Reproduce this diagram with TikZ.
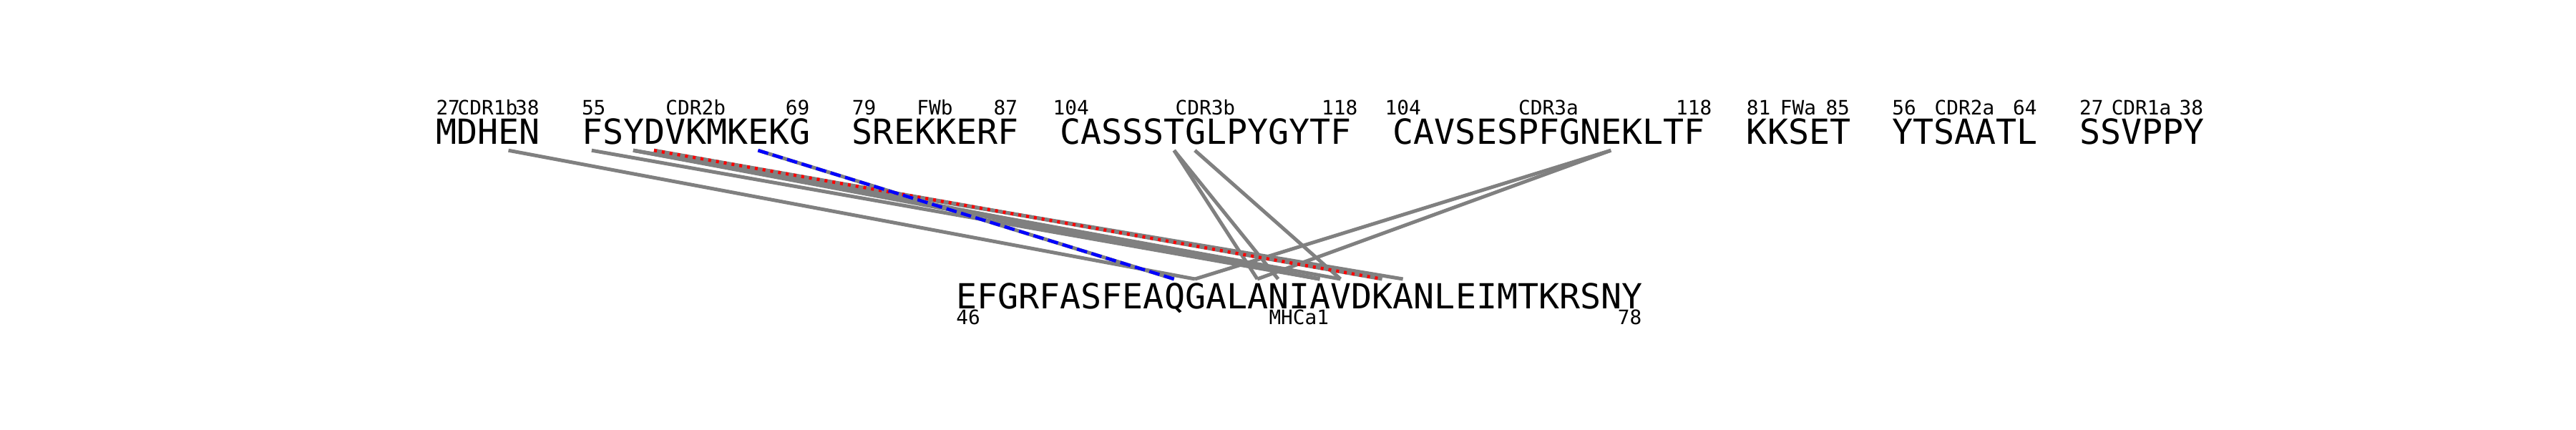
\documentclass[tikz,border=0pt]{standalone}
\usepackage{fontspec}
\usepackage{tikz}
\newfontfamily\seqfont{DejaVu Sans Mono}
\newcommand{\cw}{0.2907}

\tikzset{
  seq/.style={font=\seqfont\fontsize{13.74}{16}\selectfont, inner sep=0pt, anchor=base west},
  lbl/.style={font=\seqfont\fontsize{7.9}{9}\selectfont, inner sep=0pt},
  contact/.style={draw=gray, line width=0.05cm},
  reddot/.style={draw=red, line width=0.045cm, dash pattern=on 0.04cm off 0.07cm},
  bluedash/.style={draw=blue, line width=0.045cm, dash pattern=on 0.148cm off 0.064cm}
}

\begin{document}
\begin{tikzpicture}
	\useasboundingbox (0,0) rectangle (36,-6);

	% TCR segments
	\node[seq] (cdr1b) at (6.088,-2.017) {MDHEN};
	\node[lbl, anchor=base west] (cdr1b-s) at (6.088,-1.60) {27};
	\node[lbl, anchor=base] (cdr1b-n) at (6.815,-1.60) {CDR1b};
	\node[lbl, anchor=base east] (cdr1b-e) at (7.542,-1.60) {38};

	\node[seq] (cdr2b) at (8.123,-2.017) {FSYDVKMKEKG};
	\node[lbl, anchor=base west] (cdr2b-s) at (8.123,-1.60) {55};
	\node[lbl, anchor=base] (cdr2b-n) at (9.722,-1.60) {CDR2b};
	\node[lbl, anchor=base east] (cdr2b-e) at (11.321,-1.60) {69};

	\node[seq] (fwb) at (11.902,-2.017) {SREKKERF};
	\node[lbl, anchor=base west] (fwb-s) at (11.902,-1.60) {79};
	\node[lbl, anchor=base] (fwb-n) at (13.065,-1.60) {FWb};
	\node[lbl, anchor=base east] (fwb-e) at (14.228,-1.60) {87};

	\node[seq] (cdr3b) at (14.809,-2.017) {CASSSTGLPYGYTF};
	\node[lbl, anchor=base west] (cdr3b-s) at (14.71,-1.60) {104};
	\node[lbl, anchor=base] (cdr3b-n) at (16.844,-1.60) {CDR3b};
	\node[lbl, anchor=base east] (cdr3b-e) at (18.98,-1.60) {118};

	\node[seq] (cdr3a) at (19.460,-2.017) {CAVSESPFGNEKLTF};
	\node[lbl, anchor=base west] (cdr3a-s) at (19.35,-1.60) {104};
	\node[lbl, anchor=base] (cdr3a-n) at (21.640,-1.60) {CDR3a};
	\node[lbl, anchor=base east] (cdr3a-e) at (23.93,-1.60) {118};

	\node[seq] (fwa) at (24.402,-2.017) {KKSET};
	\node[lbl, anchor=base west] (fwa-s) at (24.402,-1.60) {81};
	\node[lbl, anchor=base] (fwa-n) at (25.129,-1.60) {FWa};
	\node[lbl, anchor=base east] (fwa-e) at (25.856,-1.60) {85};

	\node[seq] (cdr2a) at (26.437,-2.017) {YTSAATL};
	\node[lbl, anchor=base west] (cdr2a-s) at (26.437,-1.60) {56};
	\node[lbl, anchor=base] (cdr2a-n) at (27.454,-1.60) {CDR2a};
	\node[lbl, anchor=base east] (cdr2a-e) at (28.472,-1.60) {64};

	\node[seq] (cdr1a) at (29.053,-2.017) {SSVPPY};
	\node[lbl, anchor=base west] (cdr1a-s) at (29.053,-1.60) {27};
	\node[lbl, anchor=base] (cdr1a-n) at (29.925,-1.60) {CDR1a};
	\node[lbl, anchor=base east] (cdr1a-e) at (30.797,-1.60) {38};

	% MHC helix
	\node[seq] (mhc) at (13.356,-4.315) {EFGRFASFEAQGALANIAVDKANLEIMTKRSNY};
	\node[lbl, anchor=base west] (mhc-s) at (13.356,-4.53) {46};
	\node[lbl, anchor=base] (mhc-n) at (18.153,-4.53) {MHCa1};
	\node[lbl, anchor=base east] (mhc-e) at (22.949,-4.53) {78};

	% contact ends, top row (char centres)
	\coordinate (cdr1b-E) at ([shift={(3.5*\cw,-0.085)}]cdr1b.base west);
	\coordinate (cdr2b-F) at ([shift={(0.5*\cw,-0.085)}]cdr2b.base west);
	\coordinate (cdr2b-Y) at ([shift={(2.5*\cw,-0.085)}]cdr2b.base west);
	\coordinate (cdr2b-D) at ([shift={(3.5*\cw,-0.085)}]cdr2b.base west);
	\coordinate (cdr2b-E) at ([shift={(8.5*\cw,-0.085)}]cdr2b.base west);
	\coordinate (cdr3b-T) at ([shift={(5.5*\cw,-0.085)}]cdr3b.base west);
	\coordinate (cdr3b-G) at ([shift={(6.5*\cw,-0.085)}]cdr3b.base west);
	\coordinate (cdr3a-E) at ([shift={(10.5*\cw,-0.085)}]cdr3a.base west);

	% contact ends, MHC row
	\coordinate (mhc-Q10) at ([shift={(10.5*\cw,0.415)}]mhc.base west);
	\coordinate (mhc-G11) at ([shift={(11.5*\cw,0.415)}]mhc.base west);
	\coordinate (mhc-A14) at ([shift={(14.5*\cw,0.415)}]mhc.base west);
	\coordinate (mhc-N15) at ([shift={(15.5*\cw,0.415)}]mhc.base west);
	\coordinate (mhc-A17) at ([shift={(17.5*\cw,0.415)}]mhc.base west);
	\coordinate (mhc-V18) at ([shift={(18.5*\cw,0.415)}]mhc.base west);
	\coordinate (mhc-K20) at ([shift={(20.5*\cw,0.415)}]mhc.base west);
	\coordinate (mhc-A21) at ([shift={(21.5*\cw,0.415)}]mhc.base west);

	% contacts
	\draw[contact] (cdr1b-E) -- (mhc-G11);
	\draw[contact] (cdr2b-F) -- (mhc-A17);
	\draw[contact] (cdr2b-Y) -- (mhc-A17);
	\draw[contact] (cdr2b-Y) -- (mhc-V18);
	\draw[contact] (cdr2b-Y) -- (mhc-A21);
	\draw[contact] (cdr2b-D) -- (mhc-A17);
	\draw[contact] (cdr2b-D) -- (mhc-K20);
	\draw[contact] (cdr2b-E) -- (mhc-Q10);
	\draw[contact] (cdr3b-T) -- (mhc-A14);
	\draw[contact] (cdr3b-T) -- (mhc-N15);
	\draw[contact] (cdr3b-G) -- (mhc-V18);
	\draw[contact] (cdr3a-E) -- (mhc-G11);
	\draw[contact] (cdr3a-E) -- (mhc-A14);

	\draw[reddot] (cdr2b-D) -- (mhc-K20);
	\draw[bluedash] (cdr2b-E) -- (mhc-Q10);
\end{tikzpicture}
\end{document}
